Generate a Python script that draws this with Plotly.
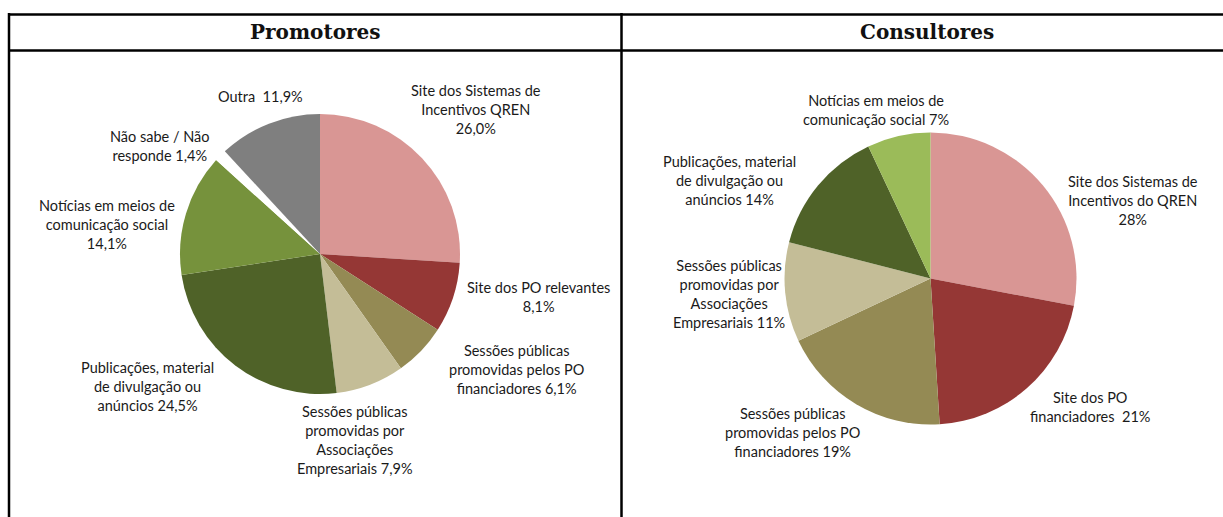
import plotly.graph_objects as go

# ---- data -------------------------------------------------------------
prom_categories = [
    "Site dos Sistemas de Incentivos QREN",
    "Site dos PO relevantes",
    "Sessões públicas promovidas pelos PO financiadores",
    "Sessões públicas promovidas por Associações Empresariais",
    "Publicações, material de divulgação ou anúncios",
    "Notícias em meios de comunicação social",
    "Não sabe / Não responde",
    "Outra",
]
prom_values = [26.0, 8.1, 6.1, 7.9, 24.5, 14.1, 1.4, 11.9]
prom_label_text = [
    "Site dos Sistemas de<br>Incentivos QREN<br>{v}",
    "Site dos PO relevantes<br>{v}",
    "Sessões públicas<br>promovidas pelos PO<br>financiadores {v}",
    "Sessões públicas<br>promovidas por<br>Associações<br>Empresariais {v}",
    "Publicações, material<br>de divulgação ou<br>anúncios {v}",
    "Notícias em meios de<br>comunicação social<br>{v}",
    "Não sabe / Não<br>responde {v}",
    "Outra\u00a0 {v}",
]

cons_categories = [
    "Site dos Sistemas de Incentivos do QREN",
    "Site dos PO financiadores",
    "Sessões públicas promovidas pelos PO financiadores",
    "Sessões públicas promovidas por Associações Empresariais",
    "Publicações, material de divulgação ou anúncios",
    "Notícias em meios de comunicação social",
]
cons_values = [28, 21, 19, 11, 14, 7]
cons_label_text = [
    "Site dos Sistemas de<br>Incentivos do QREN<br>{v}",
    "Site dos PO<br>financiadores\u00a0 {v}",
    "Sessões públicas<br>promovidas pelos PO<br>financiadores {v}",
    "Sessões públicas<br>promovidas por<br>Associações<br>Empresariais {v}",
    "Publicações, material<br>de divulgação ou<br>anúncios {v}",
    "Notícias em meios de<br>comunicação social {v}",
]

panel_titles = ["Promotores", "Consultores"]

# ---- styling / layout -------------------------------------------------
W, H = 1223, 517
prom_colors = ["#D99694", "#953735", "#948A54", "#C4BD97",
               "#4F6228", "#76923C", "#FFFFFF", "#7F7F7F"]
cons_colors = ["#D99694", "#953735", "#948A54", "#C4BD97",
               "#4F6228", "#9BBB59"]

# label centres in page pixels
prom_label_pos = [(476, 110), (538, 297), (516, 369), (355, 440),
                  (147, 386), (107, 224), (160, 146), (260, 97)]
cons_label_pos = [(1133, 200), (1090, 407), (792, 432), (729, 294),
                  (729, 181), (876, 110)]


def px(x):
    return x / W


def py(y):
    return 1 - y / H


def pie_domain(cx, cy, r):
    return dict(x=[px(cx - r), px(cx + r)], y=[py(cy + r), py(cy - r)])


def fmt_prom(v):
    return f"{v:.1f}".replace(".", ",") + "%"


def fmt_cons(v):
    return f"{v:d}%"


LABEL_FONT = dict(family="Lato, 'Open Sans', sans-serif", size=14.5, color="#1a1a1a")
TITLE_FONT = dict(family="'DejaVu Serif', serif", size=20, color="#111111")

fig = go.Figure()

fig.add_trace(go.Pie(
    labels=prom_categories, values=prom_values, sort=False,
    direction="clockwise", rotation=0,
    marker=dict(colors=prom_colors, line=dict(width=0)),
    textinfo="none", hoverinfo="label+percent", showlegend=False,
    domain=pie_domain(320, 254, 140),
))
fig.add_trace(go.Pie(
    labels=cons_categories, values=cons_values, sort=False,
    direction="clockwise", rotation=0,
    marker=dict(colors=cons_colors, line=dict(width=0)),
    textinfo="none", hoverinfo="label+percent", showlegend=False,
    domain=pie_domain(930.5, 278.5, 146),
))

annotations = []
for tmpl, v, (x, y) in zip(prom_label_text, prom_values, prom_label_pos):
    annotations.append(dict(
        text=tmpl.format(v=fmt_prom(v)), x=px(x), y=py(y),
        xref="paper", yref="paper", xanchor="center", yanchor="middle",
        align="center", showarrow=False, font=LABEL_FONT))
for tmpl, v, (x, y) in zip(cons_label_text, cons_values, cons_label_pos):
    annotations.append(dict(
        text=tmpl.format(v=fmt_cons(v)), x=px(x), y=py(y),
        xref="paper", yref="paper", xanchor="center", yanchor="middle",
        align="center", showarrow=False, font=LABEL_FONT))

for title, x in zip(panel_titles, [315, 927]):
    annotations.append(dict(
        text=f"<b>{title}</b>", x=px(x), y=py(32),
        xref="paper", yref="paper", xanchor="center", yanchor="middle",
        showarrow=False, font=TITLE_FONT))

# table frame
line = dict(color="#000000", width=2.5)
shapes = [
    dict(type="line", xref="paper", yref="paper", x0=px(8), x1=px(1230), y0=py(14.5), y1=py(14.5), line=line),
    dict(type="line", xref="paper", yref="paper", x0=px(8), x1=px(1230), y0=py(50.5), y1=py(50.5), line=line),
    dict(type="line", xref="paper", yref="paper", x0=px(9), x1=px(9), y0=py(13), y1=py(530), line=line),
    dict(type="line", xref="paper", yref="paper", x0=px(621.5), x1=px(621.5), y0=py(13), y1=py(530), line=line),
]

fig.update_layout(
    width=W, height=H, autosize=False,
    margin=dict(l=0, r=0, t=0, b=0, pad=0),
    paper_bgcolor="#FFFFFF", plot_bgcolor="#FFFFFF",
    annotations=annotations, shapes=shapes,
)

fig.write_html("out.html")
